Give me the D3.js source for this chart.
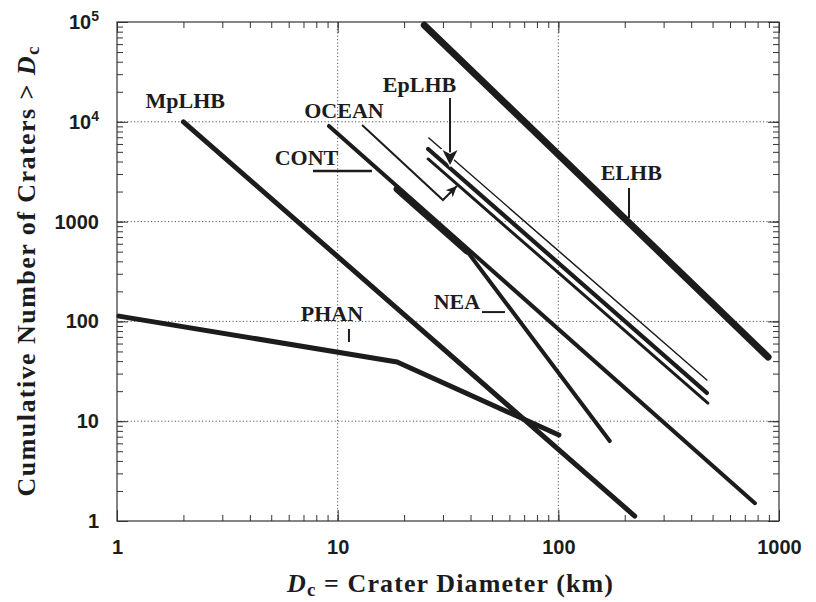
<!DOCTYPE html>
<html>
<head>
<meta charset="utf-8">
<script src="https://cdn.jsdelivr.net/npm/d3@7"></script>
<style>
  html, body { margin: 0; padding: 0; background: #fff; }
  svg { display: block; }
</style>
</head>
<body>
<svg id="chart" width="816" height="602"></svg>
<script>
// ---------------- DATA ----------------
const xTickValues = [1, 10, 100, 1000];
const xTickLabels = ["1", "10", "100", "1000"];
const yTickValues = [1, 10, 100, 1000, 1e4, 1e5];
const yTickBase   = ["1", "10", "100", "1000", "10", "10"];
const yTickExp    = ["", "", "", "", "4", "5"];

// crater size-frequency curves (diameter km, cumulative number)
const elhbD   = [24.7, 892];   const elhbN   = [93000, 44];
const mplhbD  = [2.0, 222];    const mplhbN  = [10000, 1.12];
const phanD   = [1.02, 18.6, 100.6]; const phanN = [113, 39.2, 7.27];
const oceanD  = [9.13, 778];   const oceanN  = [9080, 1.51];
const contD   = [18.6, 38.5];  const contN   = [2120, 508];
const neaD    = [38.5, 171];   const neaN    = [508, 6.33];
const epThinD = [25.9, 471];   const epThinN = [6880, 25.9];
const epThickD= [25.7, 471];   const epThickN= [5340, 19.2];
const epMedD  = [25.7, 476];   const epMedN  = [4240, 15.2];

// labels
const labelNames = ["MpLHB", "OCEAN", "EpLHB", "CONT", "ELHB", "PHAN", "NEA"];
const labelD     = [2.04, 10.68, 23.5, 7.22, 214, 9.42, 34.7];
const labelN     = [13750, 10920, 19900, 3690, 2612, 101, 133];

// leader lines
const contLeadD = [7.73, 14.3];  const contLeadN = [3214, 3214];
const elhbLeadD = [209, 209];    const elhbLeadN = [2172, 1087];
const phanLeadD = [11.25, 11.25];const phanLeadN = [83.9, 62.2];
const neaLeadD  = [45.1, 57.3];  const neaLeadN  = [124, 124];
const epArrowD  = [32.3, 32.3];  const epArrowN  = [17300, 3690];
const ocPointD  = [12.9, 30.0, 34.7]; const ocPointN = [9290, 1646, 2274];

// ---------------- LAYOUT ----------------
const svg = d3.select("#chart");
const L = 117, R = 779, T = 22, B = 521;
const x = d3.scaleLog().domain([1, 1000]).range([L, R]);
const y = d3.scaleLog().domain([1, 1e5]).range([B, T]);
const ink = "#1c1c1c";
const zip = (a, b) => a.map((v, i) => [v, b[i]]);
const line = d3.line().x(d => x(d[0])).y(d => y(d[1]));

// grid
const grid = svg.append("g").attr("stroke", "#555").attr("stroke-width", 1)
  .attr("stroke-dasharray", "1.2,2.2");
grid.selectAll("line.h").data(yTickValues.filter(v => v > 1 && v < 1e5)).join("line")
  .attr("x1", L).attr("x2", R).attr("y1", d => y(d)).attr("y2", d => y(d));
grid.selectAll("line.v").data(xTickValues.filter(v => v > 1 && v < 1000)).join("line")
  .attr("y1", T).attr("y2", B).attr("x1", d => x(d)).attr("x2", d => x(d));

// axes
const minorX = x.ticks();
const minorY = y.ticks();
const axisFont = "'Liberation Sans', Arial, sans-serif";
function styleAxis(g) {
  g.select(".domain").remove();
  g.selectAll(".tick line").attr("stroke", "#333").attr("stroke-width", 1);
  g.selectAll("text").attr("font-family", axisFont).attr("font-size", 20)
    .attr("font-weight", "bold").attr("fill", ink);
}
svg.append("g").attr("transform", `translate(0,${B})`)
  .call(d3.axisBottom(x).tickValues(minorX).tickSize(-6).tickFormat("")).call(styleAxis);
svg.append("g").attr("transform", `translate(0,${B})`)
  .call(d3.axisBottom(x).tickValues(xTickValues).tickSize(-11).tickPadding(19)
    .tickFormat((d, i) => xTickLabels[i])).call(styleAxis);
svg.append("g").attr("transform", `translate(0,${T})`)
  .call(d3.axisTop(x).tickValues(minorX).tickSize(-6).tickFormat("")).call(styleAxis);
svg.append("g").attr("transform", `translate(0,${T})`)
  .call(d3.axisTop(x).tickValues(xTickValues).tickSize(-11).tickFormat("")).call(styleAxis);
svg.append("g").attr("transform", `translate(${L},0)`)
  .call(d3.axisLeft(y).tickValues(minorY).tickSize(-6).tickFormat("")).call(styleAxis);
const yAx = svg.append("g").attr("transform", `translate(${L},0)`)
  .call(d3.axisLeft(y).tickValues(yTickValues).tickSize(-11).tickPadding(18)
    .tickFormat((d, i) => yTickBase[i])).call(styleAxis);
yAx.selectAll(".tick text").each(function (d, i) {
  if (yTickExp[i]) {
    d3.select(this).append("tspan").attr("dy", "-0.55em").attr("font-size", 14)
      .text(yTickExp[i]);
  }
});
svg.append("g").attr("transform", `translate(${R},0)`)
  .call(d3.axisRight(y).tickValues(minorY).tickSize(-6).tickFormat("")).call(styleAxis);
svg.append("g").attr("transform", `translate(${R},0)`)
  .call(d3.axisRight(y).tickValues(yTickValues).tickSize(-11).tickFormat("")).call(styleAxis);
svg.append("rect").attr("x", L).attr("y", T).attr("width", R - L).attr("height", B - T)
  .attr("fill", "none").attr("stroke", "#333").attr("stroke-width", 1.2);

// arrow markers
const defs = svg.append("defs");
defs.append("marker").attr("id", "arrBig").attr("markerUnits", "userSpaceOnUse")
  .attr("viewBox", "-16 -9 18 18").attr("refX", 0).attr("refY", 0)
  .attr("markerWidth", 18).attr("markerHeight", 18).attr("orient", "auto")
  .append("path").attr("d", "M0,0 L-15,-7.5 L-11,0 L-15,7.5 Z")
  .attr("fill", ink).attr("stroke", "#fff").attr("stroke-width", 2.5)
  .attr("paint-order", "stroke");
defs.append("marker").attr("id", "arrSmall").attr("markerUnits", "userSpaceOnUse")
  .attr("viewBox", "-12 -7 14 14").attr("refX", 0).attr("refY", 0)
  .attr("markerWidth", 14).attr("markerHeight", 14).attr("orient", "auto")
  .append("path").attr("d", "M0,0 L-11,-5 L-8,0 L-11,5 Z").attr("fill", ink);

// curves
const curves = [
  { pts: zip(elhbD, elhbN), w: 7 },
  { pts: zip(mplhbD, mplhbN), w: 5 },
  { pts: zip(phanD, phanN), w: 5 },
  { pts: zip(oceanD, oceanN), w: 4 },
  { pts: zip(contD, contN), w: 7 },
  { pts: zip(neaD, neaN), w: 4 },
  { pts: zip(epThinD, epThinN), w: 1.5 },
  { pts: zip(epThickD, epThickN), w: 4.2 },
  { pts: zip(epMedD, epMedN), w: 3 }
];
svg.append("g").selectAll("path").data(curves).join("path")
  .attr("d", d => line(d.pts)).attr("fill", "none").attr("stroke", ink)
  .attr("stroke-width", d => d.w).attr("stroke-linecap", "round")
  .attr("stroke-linejoin", "round");

// leaders
const leaders = [
  { pts: zip(contLeadD, contLeadN), w: 2.5 },
  { pts: zip(elhbLeadD, elhbLeadN), w: 2 },
  { pts: zip(phanLeadD, phanLeadN), w: 2 },
  { pts: zip(neaLeadD, neaLeadN), w: 2 },
  { pts: zip(ocPointD, ocPointN), w: 2, m: "arrSmall" },
  { pts: zip(epArrowD, epArrowN), w: 2, m: "arrBig" }
];
svg.append("g").selectAll("path").data(leaders).join("path")
  .attr("d", d => line(d.pts)).attr("fill", "none").attr("stroke", ink)
  .attr("stroke-width", d => d.w)
  .attr("marker-end", d => d.m ? `url(#${d.m})` : null);

// labels
const serif = "'Liberation Serif', 'Times New Roman', serif";
svg.append("g").selectAll("text").data(labelNames).join("text")
  .attr("x", (d, i) => x(labelD[i])).attr("y", (d, i) => y(labelN[i]))
  .attr("text-anchor", "middle").attr("font-family", serif).attr("font-weight", "bold")
  .attr("font-size", 22).attr("fill", ink).text(d => d);

// axis titles
const xt = svg.append("text").attr("x", (L + R) / 2 + 2).attr("y", 592)
  .attr("text-anchor", "middle").attr("font-family", serif).attr("font-weight", "bold")
  .attr("font-size", 26).attr("fill", ink)
  .attr("textLength", 326).attr("lengthAdjust", "spacing");
xt.append("tspan").attr("font-style", "italic").text("D");
xt.append("tspan").attr("font-size", 19).attr("dy", 4).text("c");
xt.append("tspan").attr("dy", -4).text(" = Crater Diameter (km)");

const yt = svg.append("text").attr("transform", `translate(35,${(T + B) / 2}) rotate(-90)`)
  .attr("text-anchor", "middle").attr("font-family", serif).attr("font-weight", "bold")
  .attr("font-size", 26).attr("fill", ink)
  .attr("textLength", 450).attr("lengthAdjust", "spacing");
yt.append("tspan").text("Cumulative Number of Craters > ");
yt.append("tspan").attr("font-style", "italic").text("D");
yt.append("tspan").attr("font-size", 19).attr("dy", 4).text("c");
</script>
</body>
</html>
